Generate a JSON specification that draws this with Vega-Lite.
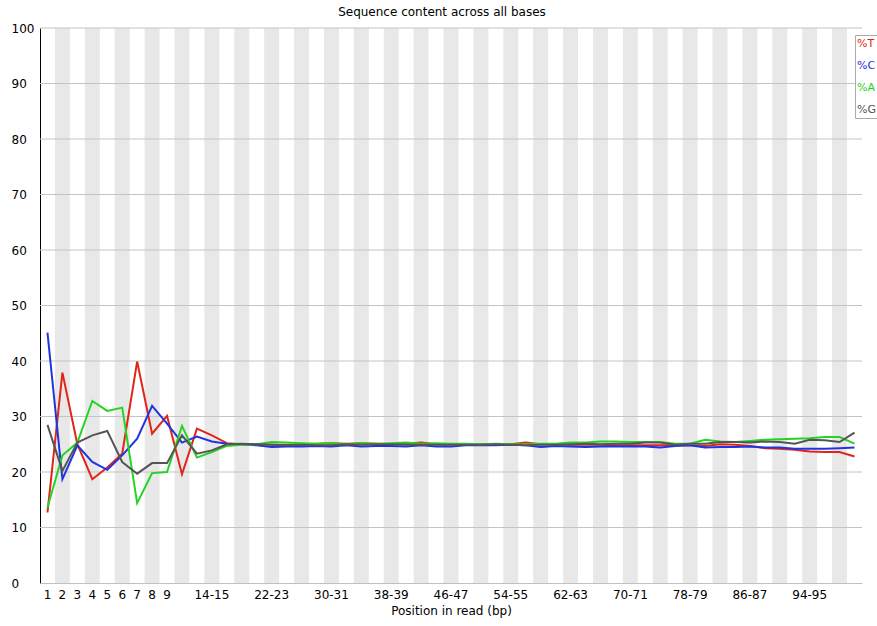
{
  "$schema": "https://vega.github.io/schema/vega-lite/v6.json",
  "width": 822,
  "height": 555,
  "autosize": "none",
  "padding": {"left": 40, "top": 28, "right": 15, "bottom": 43},
  "background": "white",
  "title": {"text": "Sequence content across all bases", "fontSize": 12, "fontWeight": "normal", "font": "DejaVu Sans", "color": "#000", "offset": 3, "dx": -9},
  "config": {"view": {"stroke": null}, "font": "DejaVu Sans"},
  "data": {"values": [
    {"pos": "1", "T": 12.7, "C": 45.1, "A": 13.6, "G": 28.5},
    {"pos": "2", "T": 37.9, "C": 18.7, "A": 23.0, "G": 20.2},
    {"pos": "3", "T": 25.0, "C": 24.8, "A": 25.3, "G": 25.3},
    {"pos": "4", "T": 18.7, "C": 21.8, "A": 32.8, "G": 26.6},
    {"pos": "5", "T": 20.8, "C": 20.4, "A": 31.0, "G": 27.4},
    {"pos": "6", "T": 23.3, "C": 23.0, "A": 31.6, "G": 21.8},
    {"pos": "7", "T": 39.9, "C": 26.0, "A": 14.4, "G": 19.7},
    {"pos": "8", "T": 26.9, "C": 31.9, "A": 19.8, "G": 21.6},
    {"pos": "9", "T": 30.1, "C": 28.7, "A": 20.0, "G": 21.6},
    {"pos": "10-11", "T": 19.6, "C": 25.3, "A": 28.3, "G": 26.6},
    {"pos": "12-13", "T": 27.8, "C": 26.4, "A": 22.6, "G": 23.3},
    {"pos": "14-15", "T": 26.6, "C": 25.5, "A": 23.6, "G": 23.9},
    {"pos": "16-17", "T": 25.2, "C": 25.1, "A": 24.7, "G": 25.0},
    {"pos": "18-19", "T": 25.0, "C": 25.0, "A": 24.9, "G": 25.1},
    {"pos": "20-21", "T": 25.0, "C": 24.8, "A": 25.0, "G": 25.0},
    {"pos": "22-23", "T": 24.9, "C": 24.5, "A": 25.4, "G": 24.9},
    {"pos": "24-25", "T": 24.9, "C": 24.6, "A": 25.3, "G": 24.8},
    {"pos": "26-27", "T": 25.0, "C": 24.6, "A": 25.2, "G": 24.9},
    {"pos": "28-29", "T": 25.1, "C": 24.7, "A": 25.1, "G": 24.8},
    {"pos": "30-31", "T": 25.2, "C": 24.6, "A": 25.2, "G": 24.8},
    {"pos": "32-33", "T": 25.1, "C": 24.8, "A": 25.0, "G": 25.0},
    {"pos": "34-35", "T": 25.2, "C": 24.6, "A": 25.2, "G": 24.9},
    {"pos": "36-37", "T": 25.1, "C": 24.7, "A": 25.1, "G": 25.0},
    {"pos": "38-39", "T": 25.0, "C": 24.7, "A": 25.2, "G": 25.0},
    {"pos": "40-41", "T": 25.1, "C": 24.6, "A": 25.3, "G": 24.9},
    {"pos": "42-43", "T": 25.3, "C": 24.8, "A": 25.1, "G": 24.9},
    {"pos": "44-45", "T": 25.0, "C": 24.6, "A": 25.2, "G": 24.9},
    {"pos": "46-47", "T": 25.0, "C": 24.6, "A": 25.1, "G": 24.9},
    {"pos": "48-49", "T": 25.0, "C": 24.8, "A": 25.1, "G": 24.9},
    {"pos": "50-51", "T": 25.0, "C": 24.8, "A": 25.0, "G": 24.9},
    {"pos": "52-53", "T": 24.9, "C": 24.8, "A": 25.1, "G": 25.0},
    {"pos": "54-55", "T": 25.0, "C": 24.9, "A": 25.0, "G": 24.9},
    {"pos": "56-57", "T": 25.3, "C": 24.8, "A": 25.0, "G": 24.8},
    {"pos": "58-59", "T": 25.0, "C": 24.5, "A": 25.1, "G": 24.9},
    {"pos": "60-61", "T": 25.0, "C": 24.7, "A": 25.1, "G": 24.9},
    {"pos": "62-63", "T": 24.9, "C": 24.6, "A": 25.3, "G": 25.0},
    {"pos": "64-65", "T": 24.9, "C": 24.5, "A": 25.3, "G": 25.1},
    {"pos": "66-67", "T": 24.9, "C": 24.6, "A": 25.5, "G": 25.0},
    {"pos": "68-69", "T": 24.8, "C": 24.6, "A": 25.5, "G": 25.1},
    {"pos": "70-71", "T": 24.8, "C": 24.6, "A": 25.4, "G": 25.1},
    {"pos": "72-73", "T": 24.8, "C": 24.6, "A": 25.4, "G": 25.3},
    {"pos": "74-75", "T": 24.8, "C": 24.4, "A": 25.4, "G": 25.3},
    {"pos": "76-77", "T": 24.8, "C": 24.7, "A": 25.1, "G": 24.9},
    {"pos": "78-79", "T": 24.8, "C": 24.8, "A": 25.1, "G": 25.1},
    {"pos": "80-81", "T": 24.7, "C": 24.4, "A": 25.8, "G": 25.1},
    {"pos": "82-83", "T": 25.0, "C": 24.5, "A": 25.5, "G": 25.4},
    {"pos": "84-85", "T": 24.9, "C": 24.5, "A": 25.4, "G": 25.4},
    {"pos": "86-87", "T": 24.7, "C": 24.6, "A": 25.6, "G": 25.3},
    {"pos": "88-89", "T": 24.3, "C": 24.4, "A": 25.8, "G": 25.5},
    {"pos": "90-91", "T": 24.2, "C": 24.4, "A": 25.9, "G": 25.4},
    {"pos": "92-93", "T": 24.0, "C": 24.2, "A": 26.0, "G": 25.1},
    {"pos": "94-95", "T": 23.7, "C": 24.2, "A": 26.1, "G": 25.8},
    {"pos": "96-97", "T": 23.6, "C": 24.2, "A": 26.3, "G": 25.7},
    {"pos": "98-99", "T": 23.6, "C": 24.3, "A": 26.3, "G": 25.4},
    {"pos": "100-101", "T": 22.8, "C": 24.4, "A": 25.1, "G": 27.1}
  ]},
  "encoding": {
    "x": {"field": "pos", "type": "nominal",
          "scale": {"paddingInner": 0, "paddingOuter": 0,
                    "domain": ["1","2","3","4","5","6","7","8","9","10-11","12-13","14-15","16-17","18-19","20-21","22-23","24-25","26-27","28-29","30-31","32-33","34-35","36-37","38-39","40-41","42-43","44-45","46-47","48-49","50-51","52-53","54-55","56-57","58-59","60-61","62-63","64-65","66-67","68-69","70-71","72-73","74-75","76-77","78-79","80-81","82-83","84-85","86-87","88-89","90-91","92-93","94-95","96-97","98-99","100-101"]},
          "axis": {"title": "Position in read (bp)", "titleFontSize": 12, "titleFontWeight": "normal", "titleColor": "#000", "titlePadding": 5,
                   "labelAngle": 0, "labelFontSize": 12, "labelColor": "#000", "labelPadding": 6, "ticks": false, "domainColor": "#c0c0c0",
                   "values": ["1","2","3","4","5","6","7","8","9","14-15","22-23","30-31","38-39","46-47","54-55","62-63","70-71","78-79","86-87","94-95"]}}
  },
  "layer": [
    {
      "transform": [
        {"window": [{"op": "row_number", "as": "idx"}]},
        {"filter": "datum.idx % 2 == 0"}
      ],
      "mark": {"type": "rect", "color": "#e8e8e8"}
    },
    {
      "data": {"values": [{"v": 10}, {"v": 20}, {"v": 30}, {"v": 40}, {"v": 50}, {"v": 60}, {"v": 70}, {"v": 80}, {"v": 90}, {"v": 100}]},
      "mark": {"type": "rule", "color": "#c4c4c4", "strokeWidth": 1},
      "encoding": {"x": null, "y": {"field": "v", "type": "quantitative"}}
    },
    {
      "transform": [{"fold": ["T", "C", "A", "G"], "as": ["base", "pct"]}],
      "mark": {"type": "line", "strokeWidth": 2},
      "encoding": {
        "y": {"field": "pct", "type": "quantitative",
              "scale": {"domain": [0, 100], "nice": false},
              "axis": {"title": null, "values": [0,10,20,30,40,50,60,70,80,90,100], "grid": false, "ticks": false,
                       "labelAlign": "left", "labelPadding": 29, "labelFontSize": 12, "labelColor": "#000", "domainColor": "#000"}},
        "color": {"field": "base", "type": "nominal",
                  "scale": {"domain": ["T", "C", "A", "G"], "range": ["#e02518", "#2035e0", "#22d522", "#555555"]},
                  "legend": {"orient": "none", "legendX": 815, "legendY": 7, "title": null, "fillColor": "white", "strokeColor": "#aaaaaa",
                             "padding": 3, "symbolSize": 0, "symbolStrokeWidth": 0, "labelOffset": -12, "labelFontSize": 11, "rowPadding": 10,
                             "labelExpr": "'%' + datum.label",
                             "encode": {"labels": {"update": {"fill": {"scale": "color", "field": "value"}}}}}}
      }
    }
  ]
}
